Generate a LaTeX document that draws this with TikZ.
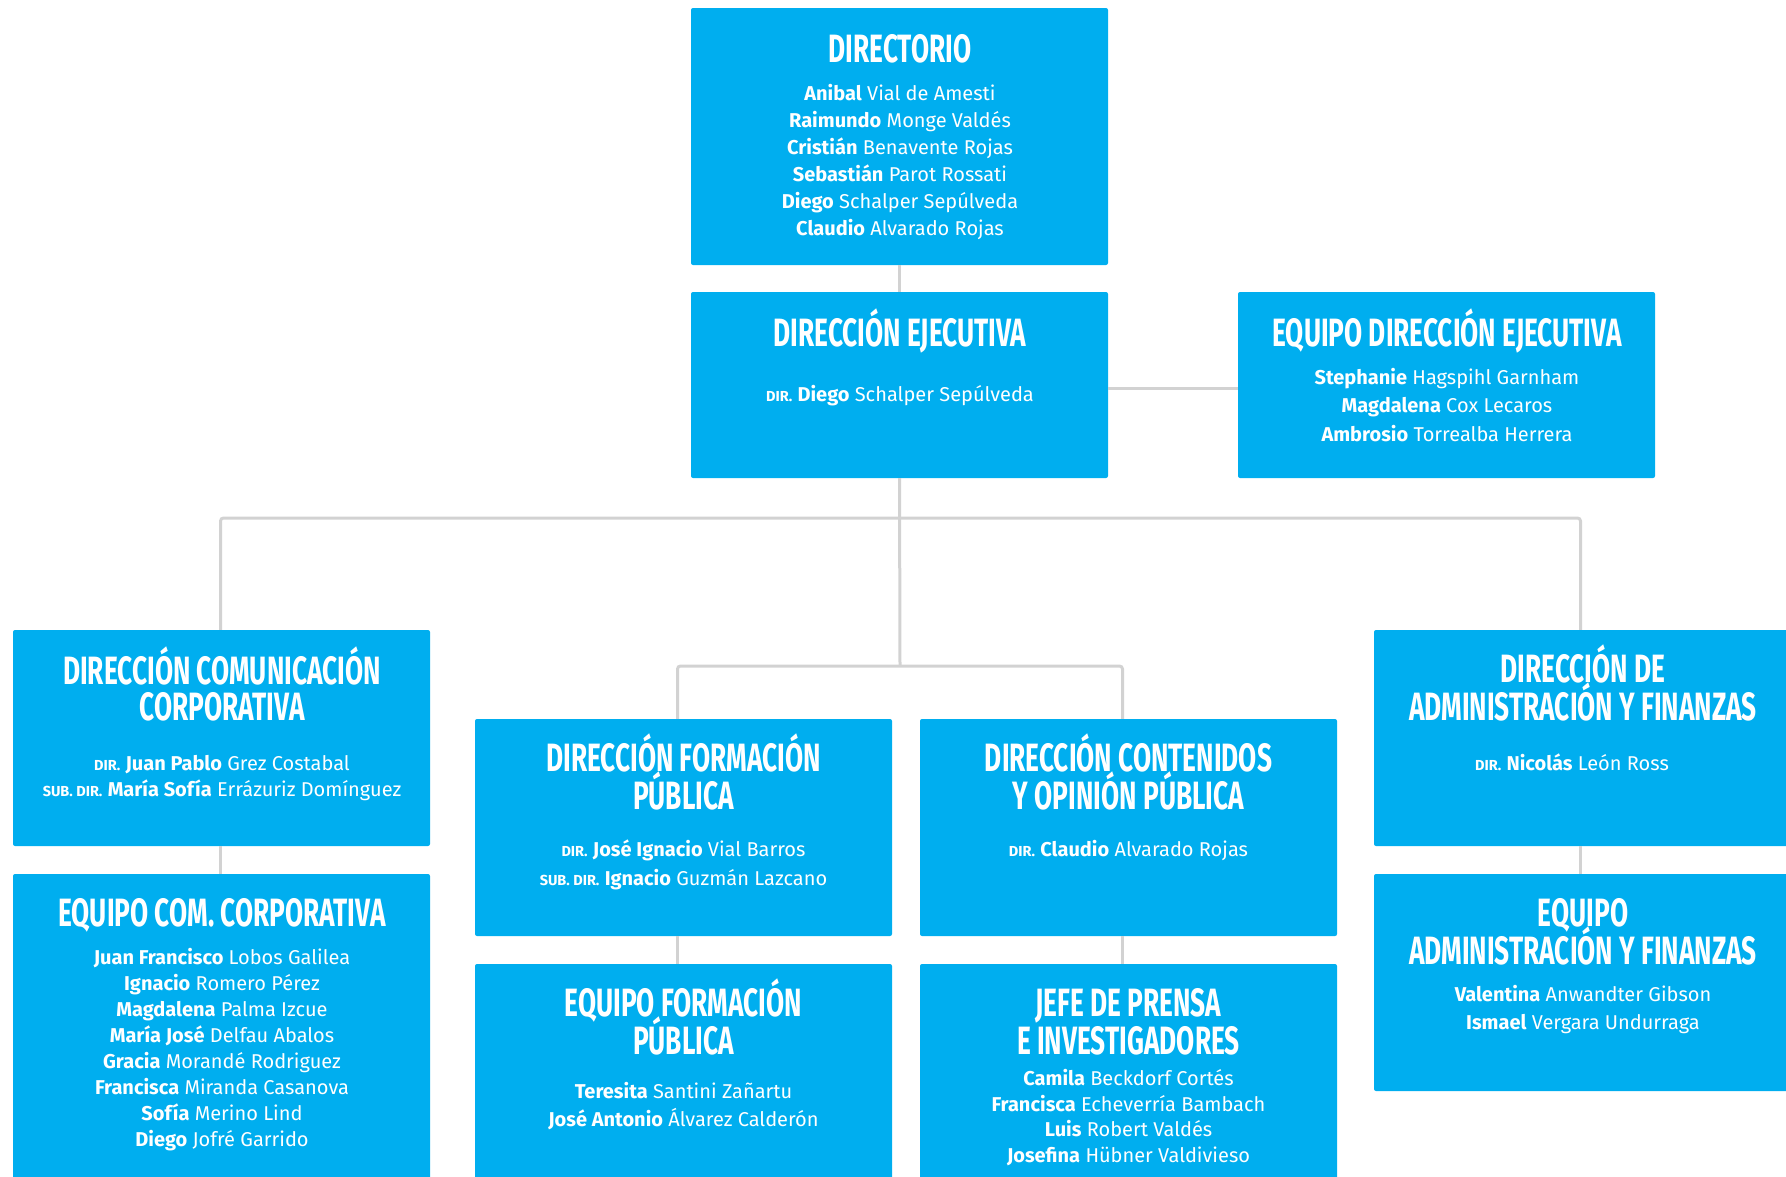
\documentclass[tikz,border=0pt]{standalone}
\usepackage{fontspec}
\setmainfont{Fira Sans}
\newfontfamily\headfont[FakeStretch=0.665]{Fira Sans}
\usetikzlibrary{calc}
\definecolor{boxblue}{HTML}{00AEEF}
\definecolor{conngray}{HTML}{D2D2D2}
\tikzset{
  box/.style={fill=boxblue, draw=none, rounded corners=2pt, inner sep=0pt, minimum width=417pt},
  conn/.style={draw=conngray, line width=3pt},
  head/.style={text=white, inner sep=0pt, anchor=base, font=\headfont\bfseries\fontsize{39.5}{37}\selectfont},
  body/.style={text=white, inner sep=0pt, anchor=base, font=\fontsize{20}{26}\selectfont},
}
\newcommand\dirl{{\fontsize{14.5}{14}\selectfont\bfseries DIR.}}
\newcommand\subdirl{{\fontsize{14.5}{14}\selectfont\bfseries SUB. DIR.}}
% #1 style, #2 name prefix, #3 x, #4 first baseline y, #5 skip, #6 list
\newcommand\TextLines[6]{\foreach \myline [count=\ix from 0] in {#6} {\node[#1] (#2-\ix) at (#3,{#4+\ix*#5}) {\myline};}}
\begin{document}
\begin{tikzpicture}[x=1pt,y=-1pt]
\clip (0,0) rectangle (1786,1176);
\useasboundingbox (0,0) rectangle (1786,1176);
% boxes
\node[box, minimum height=257pt] (dirt) at (899.5,136.5) {};
\node[box, minimum height=186pt] (dej) at (899.5,385) {};
\node[box, minimum height=186pt] (eqej) at (1446.5,385) {};
\node[box, minimum height=216pt] (dcom) at (221.5,738) {};
\node[box, minimum height=322pt] (ecom) at (221.5,1035) {};
\node[box, minimum height=217pt] (dform) at (683.5,827.5) {};
\node[box, minimum height=217pt] (dcont) at (1128.5,827.5) {};
\node[box, minimum height=231pt] (eform) at (683.5,1079.5) {};
\node[box, minimum height=231pt] (jefe) at (1128.5,1079.5) {};
\node[box, minimum height=216pt] (dadm) at (1582.5,738) {};
\node[box, minimum height=217pt] (eadm) at (1582.5,982.5) {};
% connectors
\coordinate (j1) at (900,518);
\coordinate (j2) at (900,666);
\draw[conn] (dirt.south) -- (dej.north);
\draw[conn] ([yshift=-3pt]dej.east) -- ([yshift=-3pt]eqej.west);
\draw[conn] (dej.south) -- (j2);
\draw[conn, rounded corners=3pt] ([xshift=-1pt]dcom.north) |- (j1) -| ([xshift=-2pt]dadm.north);
\draw[conn, rounded corners=3pt] ([xshift=-6pt]dform.north) |- (j2) -| ([xshift=-6pt]dcont.north);
\draw[conn] ([xshift=-1pt]dcom.south) -- ([xshift=-1pt]ecom.north);
\draw[conn] ([xshift=-6pt]dform.south) -- ([xshift=-6pt]eform.north);
\draw[conn] ([xshift=-6pt]dcont.south) -- ([xshift=-6pt]jefe.north);
\draw[conn] ([xshift=-2pt]dadm.south) -- ([xshift=-2pt]eadm.north);
% texts
\TextLines{head}{dirtH}{900}{62}{37}{DIRECTORIO}
\TextLines{body}{dirtB}{900}{100}{27}{{\textbf{Anibal} Vial de Amesti},{\textbf{Raimundo} Monge Valdés},{\textbf{Cristián} Benavente Rojas},{\textbf{Sebastián} Parot Rossati},{\textbf{Diego} Schalper Sepúlveda},{\textbf{Claudio} Alvarado Rojas}}
\TextLines{head}{dejH}{900}{346}{37}{DIRECCIÓN EJECUTIVA}
\TextLines{body}{dejB}{900}{401.7}{27}{{\dirl{} \textbf{Diego} Schalper Sepúlveda}}
\TextLines{head}{eqejH}{1447}{346}{37}{EQUIPO DIRECCIÓN EJECUTIVA}
\TextLines{body}{eqejB}{1447}{384}{28.5}{{\textbf{Stephanie} Hagspihl Garnham},{\textbf{Magdalena} Cox Lecaros},{\textbf{Ambrosio} Torrealba Herrera}}
\TextLines{head}{dcomH}{222}{684}{36.6}{{DIRECCIÓN COMUNICACIÓN},{CORPORATIVA}}
\TextLines{body}{dcomB}{222}{770.7}{25.5}{{\dirl{} \textbf{Juan Pablo} Grez Costabal},{\subdirl{} \textbf{María Sofía} Errázuriz Domínguez}}
\TextLines{head}{ecomH}{222}{926.7}{37}{EQUIPO COM. CORPORATIVA}
\TextLines{body}{ecomB}{222}{964}{26.1}{{\textbf{Juan Francisco} Lobos Galilea},{\textbf{Ignacio} Romero Pérez},{\textbf{Magdalena} Palma Izcue},{\textbf{María José} Delfau Abalos},{\textbf{Gracia} Morandé Rodriguez},{\textbf{Francisca} Miranda Casanova},{\textbf{Sofía} Merino Lind},{\textbf{Diego} Jofré Garrido}}
\TextLines{head}{dformH}{683.5}{771.7}{37.3}{{DIRECCIÓN FORMACIÓN},{PÚBLICA}}
\TextLines{body}{dformB}{683.5}{856.7}{29}{{\dirl{} \textbf{José Ignacio} Vial Barros},{\subdirl{} \textbf{Ignacio} Guzmán Lazcano}}
\TextLines{head}{dcontH}{1128.5}{771.7}{37.3}{{DIRECCIÓN CONTENIDOS},{Y OPINIÓN PÚBLICA}}
\TextLines{body}{dcontB}{1128.5}{856.7}{29}{{\dirl{} \textbf{Claudio} Alvarado Rojas}}
\TextLines{head}{eformH}{683.5}{1016.7}{37.3}{{EQUIPO FORMACIÓN},{PÚBLICA}}
\TextLines{body}{eformB}{683.5}{1098.3}{28.4}{{\textbf{Teresita} Santini Zañartu},{\textbf{José Antonio} Álvarez Calderón}}
\TextLines{head}{jefeH}{1128.5}{1016.7}{37.3}{{JEFE DE PRENSA},{E INVESTIGADORES}}
\TextLines{body}{jefeB}{1128.5}{1085.7}{25.5}{{\textbf{Camila} Beckdorf Cortés},{\textbf{Francisca} Echeverría Bambach},{\textbf{Luis} Robert Valdés},{\textbf{Josefina} Hübner Valdivieso}}
\TextLines{head}{dadmH}{1583}{682.7}{37.3}{{DIRECCIÓN DE},{ADMINISTRACIÓN Y FINANZAS}}
\TextLines{body}{dadmB}{1572}{770.7}{27}{{\dirl{} \textbf{Nicolás} León Ross}}
\TextLines{head}{eadmH}{1583}{926.7}{37.3}{{EQUIPO},{ADMINISTRACIÓN Y FINANZAS}}
\TextLines{body}{eadmB}{1583}{1001}{28.3}{{\textbf{Valentina} Anwandter Gibson},{\textbf{Ismael} Vergara Undurraga}}
\end{tikzpicture}
\end{document}
